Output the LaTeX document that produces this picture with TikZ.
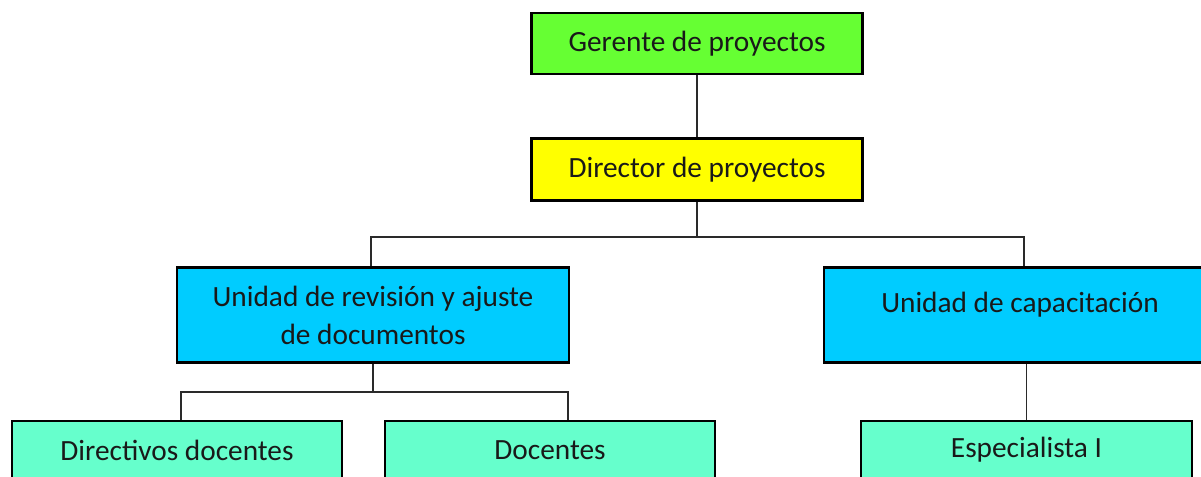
\documentclass[tikz,border=0pt]{standalone}
\usepackage{fontspec}
\setmainfont{Carlito}
\definecolor{cgreen}{HTML}{66FF33}
\definecolor{cyellow}{HTML}{FFFF00}
\definecolor{ccyan}{HTML}{00CCFF}
\definecolor{caqua}{HTML}{66FFCC}
\definecolor{cline}{HTML}{2A2A2A}
\tikzset{
  orgbox/.style={draw=black, line width=2.2pt, rectangle, inner sep=0pt, font=\fontsize{22}{28.5}\selectfont, align=center, text=black!90},
  conn/.style={draw=cline, line width=1.3pt},
}
\begin{document}
\begin{tikzpicture}[x=0.75pt,y=-0.75pt]
\useasboundingbox (0,0) rectangle (1201,477);
\clip (0,0) rectangle (1201,477);
\fill[white] (0,0) rectangle (1201,477);
% boxes
\node[orgbox, fill=cgreen, minimum width=331*0.75pt, minimum height=61*0.75pt] (ger) at (697,43.5) {Gerente de proyectos};
\node[orgbox, fill=cyellow, minimum width=331*0.75pt, minimum height=62*0.75pt] (dir) at (697,169.5) {Director de proyectos};
\node[orgbox, fill=ccyan, minimum width=392*0.75pt, minimum height=95*0.75pt] (ur) at (373,315) {Unidad de revisión y ajuste\\de documentos};
\node[orgbox, fill=ccyan, minimum width=392*0.75pt, minimum height=95*0.75pt] (cap) at (1020,315) {};
\node[font=\fontsize{22}{26}\selectfont, text=black!90, inner sep=0pt] (captext) at (1020,305) {Unidad de capacitación};
\node[orgbox, fill=caqua, minimum width=330*0.75pt, minimum height=58*0.75pt] (dd) at (177,450) {Directivos docentes};
\node[orgbox, fill=caqua, minimum width=330*0.75pt, minimum height=58*0.75pt] (doc) at (550,450) {Docentes};
\node[orgbox, fill=caqua, minimum width=331*0.75pt, minimum height=58*0.75pt] (esp) at (1026.5,450) {Especialista I};
% junctions
\coordinate (j1) at (697,236.7);
\coordinate (j2) at (373,392);
% connectors
\draw[conn] (ger.south) -- (dir.north);
\draw[conn] (dir.south) -- (j1);
\draw[conn] ([xshift=-1.5pt]ur.north) |- (j1) -| ([xshift=3pt]cap.north);
\draw[conn] (ur.south) -- (j2);
\draw[conn] ([xshift=3pt]dd.north) |- (j2) -| ([xshift=13.5pt]doc.north);
\draw[conn] (cap.south -| esp.north) -- (esp.north);
\end{tikzpicture}
\end{document}
